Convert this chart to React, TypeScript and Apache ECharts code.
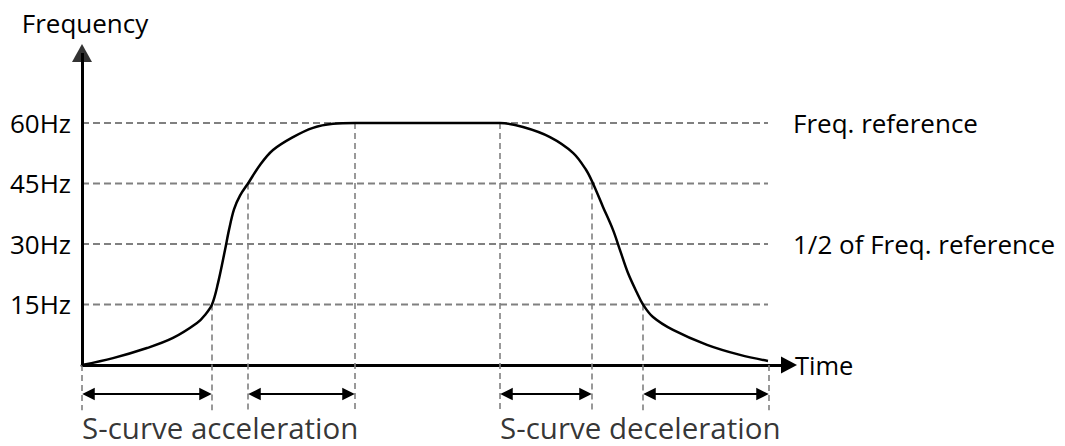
import React, { useEffect, useRef } from 'react';
import * as echarts from 'echarts';

// ---- Data (time in arbitrary units, frequency in Hz) ----
const freqTicks = [15, 30, 45, 60];
const tickLabels = ['15Hz', '30Hz', '45Hz', '60Hz'];

const curveTime = [0, 3.1, 6.5, 9.1, 11.5, 12.3, 13.0, 13.6, 14.3, 14.7, 15.2, 15.8, 16.6, 17.8, 19.1, 21.1, 23.1, 25.1, 27.3,
  41.8, 44.1, 46.8, 49.1, 50.4, 51.1, 52.1, 53.1, 53.8, 54.6, 55.5, 56.1, 57.1, 59.1, 62.5, 65.8, 68.6];
const curveFreq = [0, 1.7, 4.2, 6.7, 10.4, 12.4, 15, 20.3, 28.5, 33.5, 38.6, 42.0, 45, 49.6, 53.3, 56.5, 58.8, 59.8, 60,
  60, 59.0, 56.5, 52.6, 48.4, 45, 39.2, 33.5, 28.5, 22.8, 17.9, 15, 11.9, 8.7, 5.0, 2.5, 1.0];

const phaseTimes = [0, 13.0, 16.6, 27.3, 41.8, 51.0, 56.1, 68.7];
const phaseTopFreq = [0, 15, 45, 60, 60, 45, 15, 0];

const refFreqs = [60, 45, 30, 15];
const refNotes = ['Freq. reference', '', '1/2 of Freq. reference', ''];
const refEndTime = 68.6;

const spanStart = [0, 2, 4, 6];
const spanEnd = [1, 3, 5, 7];
const spanLabels = ['S-curve acceleration', 'S-curve deceleration'];
const spanLabelPhase = [0, 4];

const xMax = 70.7;
const yMin = -20;
const yMax = 80;
const yArrowEnd = 77.35;
const dashBottom = -11.2;
const spanArrowFreq = -7.2;
const spanLabelFreq = -15.6;

const FONT = 'Open Sans';

export default function App() {
  const ref = useRef<HTMLDivElement>(null);

  useEffect(() => {
    if (!ref.current) return;
    const chart = echarts.init(ref.current, undefined, { renderer: 'svg' });

    const inset = 0.65;
    const series: any[] = [];

    // horizontal reference dashed lines
    refFreqs.forEach((f, i) => {
      series.push({
        type: 'line',
        data: [[0, f], [refEndTime, f]],
        showSymbol: false,
        symbol: 'none',
        silent: true,
        z: 1,
        lineStyle: { color: '#808080', width: 1.8, type: [7, 4] },
        endLabel: refNotes[i]
          ? {
              show: true,
              formatter: refNotes[i],
              distance: 25,
              fontFamily: FONT,
              fontSize: 26,
              color: '#000',
            }
          : { show: false },
      });
    });

    // vertical dashed lines
    series.push({
      type: 'lines',
      coordinateSystem: 'cartesian2d',
      silent: true,
      z: 1,
      symbol: ['none', 'none'],
      lineStyle: { color: '#808080', width: 1.6, type: [6, 4], opacity: 1 },
      data: phaseTimes.map((t, i) => ({ coords: [[t, phaseTopFreq[i]], [t, dashBottom]] })),
    });

    // S-curve
    series.push({
      type: 'line',
      data: curveTime.map((t, i) => [t, curveFreq[i]]),
      showSymbol: false,
      symbol: 'none',
      smooth: 0.35,
      z: 3,
      lineStyle: { color: '#000', width: 2.5 },
    });

    // y axis line
    series.push({
      type: 'lines',
      coordinateSystem: 'cartesian2d',
      silent: true,
      z: 4,
      symbol: ['none', 'none'],
      lineStyle: { color: '#000', width: 3, opacity: 1 },
      data: [{ coords: [[0, 0], [0, yArrowEnd]] }],
    });

    // y axis arrow head
    series.push({
      type: 'scatter',
      silent: true,
      clip: false,
      z: 5,
      symbol: 'triangle',
      symbolSize: [20, 18],
      itemStyle: { color: '#000' },
      data: [[0, yArrowEnd]],
    });

    // double-headed span arrows
    series.push({
      type: 'lines',
      coordinateSystem: 'cartesian2d',
      silent: true,
      z: 4,
      symbol: ['triangle', 'triangle'],
      symbolSize: 12.5,
      lineStyle: { color: '#000', width: 2, opacity: 1 },
      itemStyle: { color: '#000' },
      data: spanStart.map((s, i) => ({
        coords: [[phaseTimes[s] + inset, spanArrowFreq], [phaseTimes[spanEnd[i]] - inset, spanArrowFreq]],
      })),
    });

    // bottom labels
    series.push({
      type: 'scatter',
      symbolSize: 0,
      silent: true,
      clip: false,
      data: spanLabelPhase.map((p, i) => ({ value: [phaseTimes[p], spanLabelFreq], name: spanLabels[i] })),
      label: {
        show: true,
        position: 'right',
        distance: 0,
        formatter: (p: any) => p.name,
        fontFamily: FONT,
        fontSize: 29.5,
        lineHeight: 30,
        color: '#000',
      },
    });

    chart.setOption({
      animation: false,
      backgroundColor: '#fff',
      grid: { left: 82, top: 42.33, width: 707, height: 403.33, containLabel: false },
      xAxis: {
        type: 'value',
        min: 0,
        max: xMax,
        name: 'Time',
        nameLocation: 'end',
        nameGap: 6,
        nameTextStyle: { fontFamily: FONT, fontSize: 25.5, color: '#000' },
        axisLine: {
          show: true,
          onZero: true,
          symbol: ['none', 'triangle'],
          symbolSize: [17, 16],
          lineStyle: { color: '#000', width: 3 },
        },
        axisTick: { show: false },
        axisLabel: { show: false },
        splitLine: { show: false },
      },
      yAxis: {
        type: 'value',
        min: yMin,
        max: yMax,
        name: 'Frequency',
        nameLocation: 'end',
        nameGap: 6,
        nameTextStyle: { fontFamily: FONT, fontSize: 26, color: '#000', align: 'center', padding: [0, 0, 0, 6] },
        axisLine: { show: false },
        axisTick: { show: false },
        splitLine: { show: false },
        axisLabel: {
          show: true,
          customValues: freqTicks,
          margin: 11,
          fontFamily: FONT,
          fontSize: 26,
          color: '#000',
          formatter: (v: number) => {
            const i = freqTicks.indexOf(v);
            return i >= 0 ? tickLabels[i] : '';
          },
        },
      },
      series,
    });

    return () => chart.dispose();
  }, []);

  return (
    <div
      ref={ref}
      style={{ position: 'fixed', left: 0, top: 0, width: 1065, height: 446 }}
    />
  );
}
